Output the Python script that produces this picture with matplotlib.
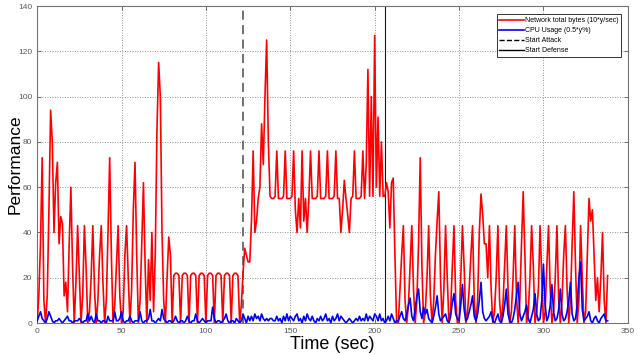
import numpy as np
import matplotlib
matplotlib.use("Agg")
import matplotlib.pyplot as plt
from matplotlib.lines import Line2D

plt.rcParams['font.family'] = ['Liberation Sans', 'DejaVu Sans']

# ---------------- data (1 sample per second) ----------------
red_start = [0, 12, 35, 73, 10, 0, 12, 50, 94, 80, 40, 62, 71, 35, 47, 44, 12, 18, 5, 35, 60, 25, 0]
red_pre = [18, 43, 22, 0, 12, 43, 25, 0, 5, 20, 43, 15, 0, 10, 30, 43, 18, 0, 10, 40, 73, 30, 0,
           8, 25, 43, 12, 0, 5, 30, 43, 20, 0, 15, 50, 71, 30, 0, 10, 35, 62, 25, 0, 28, 10, 40, 5, 30,
           85, 115, 100, 40, 10, 0, 20, 38, 30, 0]
red_square = [21, 22, 22, 21, 0] * 8 + [8]
red_attack = [22, 33, 30, 27, 27, 45, 76, 40, 45, 55, 60, 88, 70, 100, 125, 80,
              56, 55, 55, 56, 76, 55, 55, 55, 56, 76, 55, 55, 55, 56,
              76, 50, 40, 55, 42, 76, 45, 55, 40, 55, 76, 55, 55, 55, 56,
              76, 55, 55, 55, 56, 76, 55, 55, 55, 56, 76, 55, 55, 40, 50,
              63, 55, 48, 40, 55, 56, 76, 55, 55, 55, 56, 76, 55, 70, 112,
              56, 100, 56, 127, 60, 91, 56, 80, 56]
red_defense = [56, 62, 58, 42, 62, 64, 30, 0,
               0, 15, 30, 43, 10, 0, 8, 25, 43, 15, 0, 10, 35, 73, 25, 0, 5, 20, 43, 12, 0,
               10, 30, 45, 58, 20, 0, 15, 43, 20, 0, 5, 25, 43, 10, 0, 0, 20, 43, 25, 0,
               5, 15, 30, 43, 10, 0, 10, 40, 57, 48, 35, 35, 20, 43, 15, 0, 5, 20, 43, 10, 0,
               8, 25, 43, 15, 0, 5, 20, 43, 12, 0, 10, 35, 58, 30, 0, 5, 20, 43, 25, 0,
               5, 15, 43, 20, 0, 5, 25, 43, 15, 0, 5, 20, 43, 10, 0, 10, 30, 43, 15, 0,
               10, 35, 58, 25, 0, 10, 43, 20, 0, 5, 30, 55, 45, 50, 30, 10, 20, 5, 20, 40,
               10, 0, 21]
network = red_start + red_pre + red_square + red_attack + red_defense

blue_start = [1, 3, 5, 2, 1, 0, 2, 5, 3, 1, 0, 1, 1, 2, 1, 0, 1, 2, 3, 1, 1, 0, 1]
blue_pre = [1, 1, 2, 1, 0, 1, 1, 4, 1, 3, 1, 0, 4, 1, 1, 0, 1, 1, 0, 3,
            1, 1, 1, 5, 1, 1, 2, 5, 1, 0, 1, 1, 3, 1, 0, 1, 1, 1, 5, 1,
            0, 1, 1, 2, 6, 1, 1, 0, 1, 2, 1, 6, 2, 1, 0, 1, 1, 0]
blue_square = [1, 3, 1, 0, 1, 1, 0, 1, 3, 1, 0, 1, 1, 4, 1, 0, 1, 2, 1, 0,
               1, 1, 1, 7, 2, 0, 1, 1, 0, 1, 2, 4, 1, 0, 1, 1, 0, 2, 1, 0, 1]
blue_attack = [4, 2, 0, 3, 1, 3, 1, 4, 2, 3, 1, 4, 2, 1, 2, 1, 2, 2, 1, 1,
               3, 1, 2, 0, 3, 1, 4, 1, 3, 2, 1, 3, 4, 1, 2, 0, 3, 1, 4, 2,
               1, 3, 1, 0, 2, 1, 3, 1, 2, 4, 1, 2, 0, 3, 1, 2, 4, 1, 3, 2,
               1, 0, 1, 2, 1, 0, 1, 2, 1, 3, 1, 2, 1, 4, 1, 3, 2, 1, 4, 3,
               1, 4, 1, 2, 0, 1, 3, 1, 4, 2, 0, 1]
blue_defense = [1, 3, 5, 2, 1, 4, 8, 11, 3, 1, 6, 12, 15, 5, 2, 7, 4, 6, 2, 1,
                0, 3, 7, 12, 4, 1, 2, 3, 4, 1, 0, 3, 9, 13, 4, 2, 1, 8, 17, 6,
                1, 2, 5, 8, 12, 3, 1, 4, 10, 18, 5, 2, 1, 2, 3, 5, 1, 0, 2, 4,
                1, 0, 3, 8, 15, 4, 1, 0, 2, 6, 12, 18, 4, 1, 3, 5, 8, 2, 0, 3,
                6, 13, 4, 1, 2, 10, 26, 8, 1, 3, 8, 17, 5, 1, 2, 6, 15, 4, 1, 2,
                5, 10, 18, 4, 1, 2, 8, 20, 27, 6, 1, 2, 3, 5, 1, 0, 2, 3, 1, 0,
                2, 3, 4, 1, 1]
cpu = blue_start + blue_pre + blue_square + blue_attack + blue_defense

t_attack = 122
t_defense = 206

labels = ["Network total bytes (10*y/sec)", "CPU Usage (0.5*y%)", "Start Attack", "Start Defense"]
x_ticks = [0, 50, 100, 150, 200, 250, 300, 350]
y_ticks = [0, 20, 40, 60, 80, 100, 120, 140]

# ---------------- plot ----------------
fig = plt.figure(figsize=(6.4, 3.55), dpi=100)
ax = fig.add_axes([0.058, 0.090, 0.923, 0.893])

time_r = np.arange(len(network))
time_b = np.arange(len(cpu))
ax.plot(time_r, network, color='#ff0000', lw=1.2, zorder=3)
ax.plot(time_b, cpu, color='#0000ff', lw=1.2, zorder=4)
ax.axvline(t_attack, color='0.4', lw=1.3, ls=(0, (5, 3)), zorder=2)
ax.axvline(t_defense, color='0.1', lw=0.8, zorder=2)

ax.set_xlim(0, 350)
ax.set_ylim(0, 140)
ax.set_xticks(x_ticks)
ax.set_yticks(y_ticks)
ax.grid(True, color='0.45', ls=(0, (1, 2)), lw=0.6)
ax.tick_params(direction='in', labelsize=6, colors='0.35', length=3, width=0.6,
               top=True, right=True)
for s in ax.spines.values():
    s.set_color('0.45')
    s.set_linewidth(0.8)

ax.set_xlabel("Time (sec)", fontsize=13, labelpad=1)
ax.set_ylabel("Performance", fontsize=12.5)
ax.yaxis.set_label_coords(-0.024, 0.5)

handles = [Line2D([], [], color='#ff0000', lw=1.2),
           Line2D([], [], color='#0000ff', lw=1.2),
           Line2D([], [], color='black', lw=1.0, ls='--'),
           Line2D([], [], color='black', lw=1.0)]
leg = ax.legend(handles, labels, loc='upper right', bbox_to_anchor=(0.995, 0.985),
                fontsize=5, frameon=True, fancybox=False, edgecolor='0.2',
                framealpha=1, handlelength=3.5, handletextpad=0.2,
                borderpad=0.4, labelspacing=0.45)
leg.get_frame().set_linewidth(0.7)

fig.savefig("out.png", dpi=100)
